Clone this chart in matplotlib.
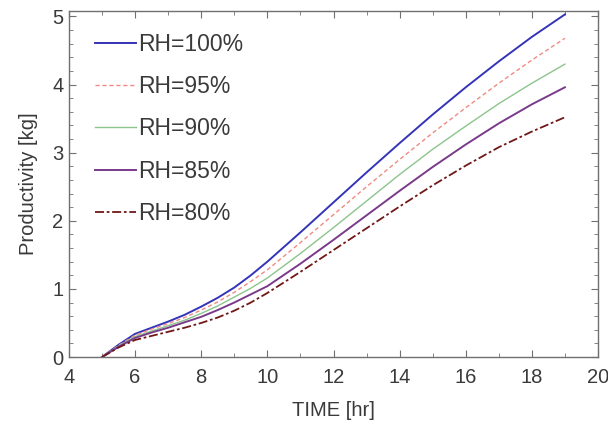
import matplotlib
matplotlib.use("Agg")
import matplotlib.pyplot as plt
from matplotlib.ticker import MultipleLocator

plt.rcParams['font.family'] = ['Liberation Sans', 'DejaVu Sans']

time_hr = [5, 5.5, 6, 6.5, 7, 7.5, 8, 8.5, 9, 9.5, 10, 11, 12, 13, 14, 15, 16, 17, 18, 19]
rh100 = [0, 0.18, 0.34, 0.43, 0.52, 0.62, 0.74, 0.87, 1.02, 1.20, 1.40, 1.83, 2.27, 2.71, 3.14, 3.56, 3.96, 4.34, 4.70, 5.03]
rh95  = [0, 0.17, 0.32, 0.41, 0.49, 0.58, 0.69, 0.81, 0.95, 1.11, 1.28, 1.68, 2.09, 2.50, 2.90, 3.29, 3.66, 4.02, 4.36, 4.68]
rh90  = [0, 0.16, 0.30, 0.38, 0.46, 0.54, 0.64, 0.75, 0.88, 1.01, 1.16, 1.52, 1.90, 2.29, 2.68, 3.05, 3.39, 3.72, 4.02, 4.30]
rh85  = [0, 0.15, 0.28, 0.36, 0.43, 0.51, 0.59, 0.69, 0.80, 0.92, 1.04, 1.37, 1.72, 2.08, 2.44, 2.79, 3.12, 3.43, 3.71, 3.96]
rh80  = [0, 0.14, 0.25, 0.31, 0.37, 0.43, 0.50, 0.58, 0.68, 0.80, 0.94, 1.25, 1.57, 1.89, 2.21, 2.52, 2.81, 3.08, 3.31, 3.52]

labels = ['RH=100%', 'RH=95%', 'RH=90%', 'RH=85%', 'RH=80%']
series = [rh100, rh95, rh90, rh85, rh80]
colors = ['#3434b8', '#f08a80', '#8cc48c', '#7a3a8a', '#701818']
styles = ['-', (0, (3, 2)), '-', '-', (0, (5, 1.5, 1.5, 1.5))]
widths = [1.4, 1.0, 1.0, 1.4, 1.3]

fig = plt.figure(figsize=(6.08, 4.36), dpi=100)
ax = fig.add_axes([69/608, 79/436, (598-69)/608, (357-11)/436])

for y, lab, c, ls, lw in zip(series, labels, colors, styles, widths):
    ax.plot(time_hr, y, color=c, linestyle=ls, linewidth=lw, label=lab)

ax.set_xlim(4, 20)
ax.set_ylim(0, 5.08)
ax.xaxis.set_major_locator(MultipleLocator(2))
ax.xaxis.set_minor_locator(MultipleLocator(1))
ax.yaxis.set_major_locator(MultipleLocator(1))
ax.yaxis.set_minor_locator(MultipleLocator(0.2))

spine_c = '#707070'
text_c = '#3a3a3a'
for s in ax.spines.values():
    s.set_color(spine_c)
    s.set_linewidth(1.0)
ax.tick_params(which='both', direction='in', top=True, right=True, colors=spine_c,
               labelcolor=text_c, labelsize=14.5)
ax.tick_params(which='major', length=5)
ax.tick_params(which='minor', length=3)
ax.tick_params(axis='x', pad=8)
ax.tick_params(axis='y', pad=4)

ax.set_xlabel('TIME [hr]', fontsize=14.5, color=text_c, labelpad=10)
ax.set_ylabel('Productivity [kg]', fontsize=14.5, color=text_c, labelpad=10)

leg = ax.legend(loc='upper left', bbox_to_anchor=(0.031, 0.963), frameon=False,
                fontsize=16.5, handlelength=1.8, handletextpad=0.1, labelspacing=0.84,
                borderaxespad=0)
for t in leg.get_texts():
    t.set_color(text_c)

fig.savefig('out.png', dpi=100)
